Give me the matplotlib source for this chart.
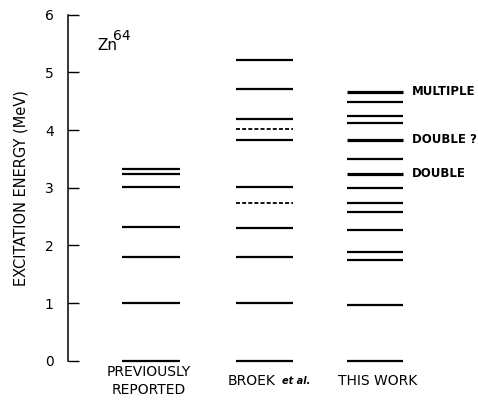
import matplotlib
matplotlib.use("Agg")
import matplotlib.pyplot as plt

plt.rcParams['font.family'] = ['DejaVu Sans']

# Data (MeV)
prev_levels = [0.0, 1.00, 1.79, 2.31, 3.02, 3.23, 3.32]
broek_levels = [0.0, 1.00, 1.79, 2.30, 3.02, 3.83, 4.19, 4.72, 5.21]
broek_dashed = [2.73, 4.01]
this_levels = [0.0, 0.97, 1.75, 1.89, 2.27, 2.58, 2.73, 3.00, 3.50, 4.13, 4.24, 4.48]
this_thick = [3.24, 3.83, 4.66]
this_notes = ["DOUBLE", "DOUBLE ?", "MULTIPLE"]
column_labels = ["PREVIOUSLY\nREPORTED", "BROEK", "THIS WORK"]
yticks = [0, 1, 2, 3, 4, 5, 6]

W, H = 478, 408
fig = plt.figure(figsize=(W / 100, H / 100), dpi=100)
x0 = 67.7
y_bot = H - 360.7
y_top = H - 14.7
ax = fig.add_axes([x0 / W, y_bot / H, (W - x0) / W, (y_top - y_bot) / H])
ax.set_xlim(0, W - x0)
ax.set_ylim(0, 6)

centers = [151 - x0, 264 - x0, 375.3 - x0]
half = [29, 28.5, 28]

def draw(levels, c, hw, lw=1.6, ls='-'):
    for e in levels:
        ax.plot([c - hw, c + hw], [e, e], color='black', lw=lw, ls=ls,
                solid_capstyle='butt', dash_capstyle='butt', clip_on=False)

draw(prev_levels, centers[0], half[0])
draw(broek_levels, centers[1], half[1])
for e in broek_dashed:
    ax.plot([centers[1] - half[1], centers[1] + half[1]], [e, e], color='black',
            lw=1.3, dashes=(2.2, 1.2), clip_on=False)
draw(this_levels, centers[2], half[2])
draw(this_thick, centers[2], half[2], lw=2.3)
for e, t in zip(this_thick, this_notes):
    ax.text(411.7 - x0, e, t, fontsize=8.5, fontweight='bold', ha='left', va='center')

# Spines and ticks
for s in ['top', 'right', 'bottom']:
    ax.spines[s].set_visible(False)
ax.spines['left'].set_linewidth(1.1)
ax.set_xticks([])
ax.set_yticks(yticks)
ax.set_yticklabels([str(t) for t in yticks], fontsize=10)
ax.tick_params(axis='y', direction='in', length=8, width=1.0, pad=10)
ax.set_ylabel("EXCITATION ENERGY (MeV)", fontsize=10.5, labelpad=12)

# Zn^64 label
fig.text(97 / W, 1 - 46 / H, "Zn", fontsize=11, ha='left', va='center')
fig.text(113 / W, 1 - 36 / H, "64", fontsize=10, ha='left', va='center')

# Column labels
fig.text(149 / W, 1 - 381 / H, column_labels[0], fontsize=10, ha='center', va='center',
         linespacing=1.45)
fig.text(252 / W, 1 - 381 / H, column_labels[1], fontsize=10, ha='center', va='center')
fig.text(282 / W, 1 - 381 / H, "et al.", fontsize=7, style='italic', fontweight='bold',
         ha='left', va='center')
fig.text(378 / W, 1 - 381 / H, column_labels[2], fontsize=10, ha='center', va='center')

fig.savefig("out.png", dpi=100)
